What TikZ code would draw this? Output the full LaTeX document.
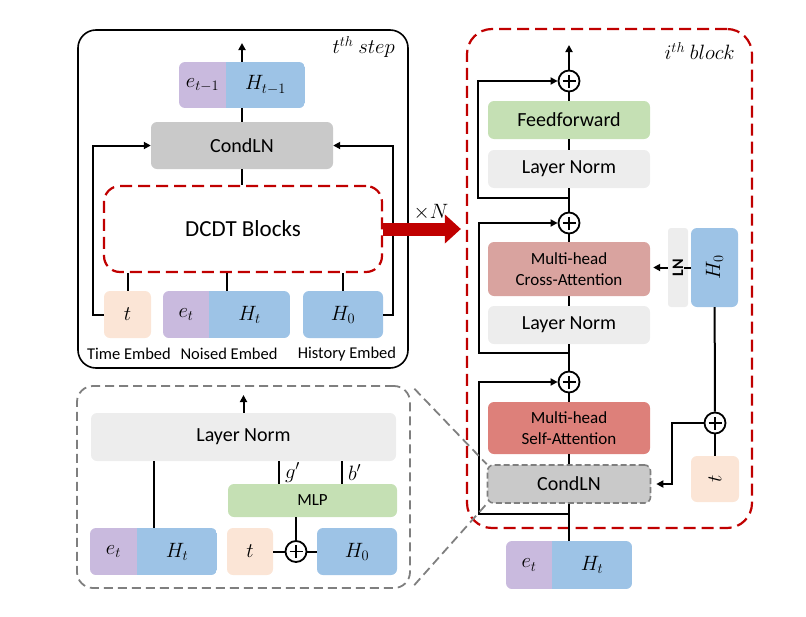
\documentclass[tikz,border=0pt]{standalone}
\usepackage{amsmath}
\usepackage{graphicx}
\usepackage[no-math]{fontspec}
\setmainfont{Carlito}
\usepackage{tikz}
\usetikzlibrary{arrows.meta}

\definecolor{embpurple}{HTML}{C9BADE}
\definecolor{embblue}{HTML}{9DC3E6}
\definecolor{peach}{HTML}{FBE5D6}
\definecolor{condgray}{HTML}{C9C9C9}
\definecolor{lngray}{HTML}{EDEDED}
\definecolor{ffgreen}{HTML}{C5E0B4}
\definecolor{crossrose}{HTML}{D9A39F}
\definecolor{selfred}{HTML}{DD807A}
\definecolor{dred}{HTML}{C00000}
\definecolor{zgray}{HTML}{7F7F7F}

% two-colour embedding box: name, x1, xsplit, x2, y1, y2, left text, right text
\newcommand{\embedpair}[8]{%
  \begin{scope}
    \clip[rounded corners=6pt] (#2,#5) rectangle (#4,#6);
    \fill[embpurple] (#2,#5) rectangle (#3,#6);
    \fill[embblue] (#3,#5) rectangle (#4,#6);
  \end{scope}
  \node[minimum width={#4-#2}, minimum height={#6-#5}] (#1) at ({(#2+#4)/2},{(#5+#6)/2}) {};
  \node[mathtext] (#1-e) at ({(#2+#3)/2},{(#5+#6)/2}) {#7};
  \node[mathtext] (#1-h) at ({(#3+#4)/2},{(#5+#6)/2}) {#8};
}

\begin{document}
\begin{tikzpicture}[x=1pt, y=-1pt, >={Triangle[length=7pt,width=7pt]}]
        \tikzstyle{every node} = [rectangle, inner sep=0pt, font=\fontsize{20}{24}\selectfont]
        \tikzstyle{mathtext} = [font=\fontsize{21}{24}\selectfont]
        \tikzstyle{box} = [rounded corners=6pt, minimum width=162, minimum height=38]
        \tikzstyle{flow} = [line width=2pt]
        \tikzstyle{reddash} = [draw=dred, line width=2.2pt, dash pattern=on 12pt off 6pt]
        \tikzstyle{zoomline} = [draw=zgray, line width=1.8pt, dash pattern=on 9pt off 5pt]
        \tikzstyle{addop} = [circle, draw, line width=1.8pt, fill=white, minimum size=21,
            path picture={\draw[line width=1.6pt]
              ([xshift=-6.5pt]path picture bounding box.center) -- ([xshift=6.5pt]path picture bounding box.center)
              ([yshift=-6.5pt]path picture bounding box.center) -- ([yshift=6.5pt]path picture bounding box.center);}]
        \useasboundingbox (0,0) rectangle (806,616);

        % t-th step
        \node[draw, line width=1.6pt, rounded corners=18pt, minimum width=330, minimum height=338] (stepframe) at (243,199) {};
        \node[mathtext, anchor=east] (steplabel) at (395,47) {$t^{th}\ step$};
        \embedpair{out}{179}{226}{305}{62}{108}{$e_{t-1}$}{$H_{t-1}$}
        \coordinate (outtip) at (242,43);
        \node[box, fill=condgray, minimum width=182, minimum height=47] (condln) at (242,145.5) {CondLN};
        \node[reddash, rounded corners=16pt, minimum width=278, minimum height=86,
              font=\fontsize{23}{27}\selectfont] (dcdt) at (243,229) {DCDT Blocks};
        \node[box, fill=peach, minimum width=47, minimum height=47, mathtext] (tin) at (127.5,314.5) {$t$};
        \embedpair{noised}{163}{209}{290}{291}{338}{$e_t$}{$H_t$}
        \node[box, fill=embblue, minimum width=80, minimum height=47, mathtext] (hist) at (343,314.5) {$H_0$};
        \node[font=\fontsize{16.5}{19}\selectfont] (tinlabel) at (129,354) {Time Embed};
        \node[font=\fontsize{16.5}{19}\selectfont] (noisedlabel) at (229,354) {Noised Embed};
        \node[font=\fontsize{16.5}{19}\selectfont] (histlabel) at (347,354) {History Embed};

        \draw[flow,->] (out) -- (outtip);
        \draw[flow] (condln) -- (out);
        \draw[flow] (condln.south) -- (condln.south |- dcdt.north);
        \foreach \n in {tin, noised, hist}
            \draw[flow] (\n.north) -- (\n.north |- dcdt.south);
        \draw[flow,->] (tin.west) -- ++(-11,0) |- (condln.west);
        \draw[flow,->] (hist.east) -- ++(10,0) |- (condln.east);

        % i-th block
        \node[reddash, rounded corners=25pt, minimum width=285, minimum height=499] (iblock) at (609.5,278.5) {};
        \node[mathtext, anchor=east] (blocklabel) at (735,51) {$i^{th}\ block$};
        \coordinate (itop) at (569,45);
        \node[addop] (add1) at (569,81) {};
        \node[box, fill=ffgreen] (ff) at (569,120) {Feedforward};
        \node[box, fill=lngray] (ln1) at (569,169) {Layer Norm};
        \node[addop] (add2) at (569,223) {};
        \node[box, fill=crossrose, minimum height=54, align=center, font=\fontsize{17}{21}\selectfont] (cross) at (569,269) {Multi-head\\Cross-Attention};
        \node[box, fill=lngray] (ln2) at (569,325) {Layer Norm};
        \node[addop] (add3) at (569,382) {};
        \node[box, fill=selfred, minimum height=52, align=center, font=\fontsize{17}{21}\selectfont] (selfatt) at (569,428) {Multi-head\\Self-Attention};
        \node[box, fill=condgray, draw=zgray, line width=1.6pt, dash pattern=on 6pt off 3pt, minimum width=163] (condr) at (569,484) {CondLN};
        \embedpair{inpair}{506}{552}{632}{541}{589}{$e_t$}{$H_t$}
        \node[fill=lngray, rounded corners=3pt, minimum width=20, minimum height=79, font=\fontsize{16}{19}\selectfont\bfseries] (lnh) at (678,267.5) {\rotatebox{90}{LN}};
        \node[box, fill=embblue, minimum width=47, minimum height=79, mathtext] (h0r) at (714.5,267.5) {\rotatebox{90}{$H_0$}};
        \node[addop] (add4) at (715,423) {};
        \node[box, fill=peach, minimum width=48, minimum height=46, mathtext] (tr) at (715,479) {\rotatebox{90}{$t$}};
        \coordinate (sk1) at (569,198);
        \coordinate (sk2) at (569,353);
        \coordinate (sk3) at (569,514);

        \draw[flow,->] (add1) -- (itop);
        \foreach \from/\to in {ff/add1, ln1/ff, add2/ln1, cross/add2, ln2/cross, add3/ln2, selfatt/add3, condr/selfatt, inpair/condr}
            \draw[flow] (\from) -- (\to);
        \draw[flow,->] (sk1) -- ++(-91,0) |- (add1);
        \draw[flow,->] (sk2) -- ++(-90,0) |- (add2);
        \draw[flow,->] (sk3) -- ++(-90,0) |- (add3);
        \draw[flow] (h0r.west) -- ++(-7,0);
        \draw[flow,->,shorten >=3pt] (lnh.west) -- (lnh.west -| cross.east);
        \draw[flow] (h0r) -- (add4);
        \draw[flow] (tr) -- (add4);
        \draw[flow,->,shorten >=5pt] (add4.west) -- ++(-32,0) |- (condr.east);

        % repeat arrow
        \draw[line width=13pt, color=dred, -{Triangle[length=16pt,width=28pt]}] (dcdt.east) -- ([xshift=-5pt]iblock.west |- dcdt.east);
        \node[mathtext] (times) at (431,212) {$\times N$};

        % CondLN detail
        \node[zoomline, rounded corners=16pt, minimum width=333, minimum height=202] (zoombox) at (243.5,487) {};
        \draw[zoomline, shorten <=5pt] (zoombox.north east) -- (condr.north west);
        \draw[zoomline, shorten <=5pt] (zoombox.south east) -- (condr.south west);
        \node[box, fill=lngray, minimum width=305, minimum height=48] (lnz) at (243.5,437) {Layer Norm};
        \coordinate (ztop) at (243.5,395);
        \embedpair{zpair}{90}{137}{217}{528}{575}{$e_t$}{$H_t$}
        \node[box, fill=ffgreen, minimum width=169, minimum height=33, font=\fontsize{17}{20}\selectfont] (mlp) at (312.5,500.5) {MLP};
        \node[box, fill=peach, minimum width=46, minimum height=47, mathtext] (tz) at (250,551.5) {$t$};
        \node[addop] (addz) at (296,551.5) {};
        \node[box, fill=embblue, minimum width=80, minimum height=47, mathtext] (h0z) at (357,551.5) {$H_0$};

        \draw[flow,->] (lnz) -- (ztop);
        \draw[flow] (zpair.north) -- (zpair.north |- lnz.south);
        \draw[flow] ([xshift=-33.5pt]mlp.north) -- ([xshift=-33.5pt]mlp.north |- lnz.south) node[midway, right=5pt, mathtext] {$g'$};
        \draw[flow] ([xshift=29.5pt]mlp.north) -- ([xshift=29.5pt]mlp.north |- lnz.south) node[midway, right=5pt, mathtext] {$b'$};
        \draw[flow] (tz) -- (addz);
        \draw[flow] (addz) -- (h0z);
        \draw[flow] (addz.north) -- (addz.north |- mlp.south);
\end{tikzpicture}
\end{document}
